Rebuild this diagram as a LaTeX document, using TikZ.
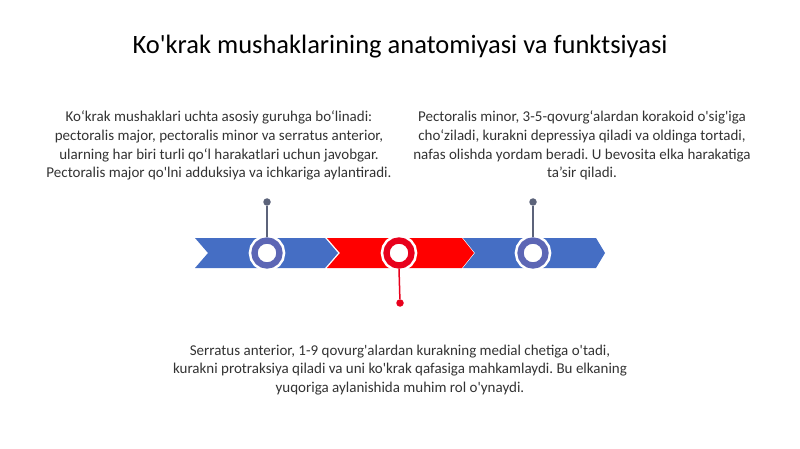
\documentclass[tikz,border=0pt]{standalone}
\usepackage{fontspec}
\setmainfont{Carlito}[Ligatures=TeXOff]
\definecolor{bandblue}{rgb}{0.27,0.43,0.77}
\definecolor{bandred}{rgb}{1.00,0.00,0.00}
\definecolor{ringblue}{rgb}{0.36,0.40,0.71}
\definecolor{ringred}{rgb}{0.91,0.00,0.11}
\definecolor{stemblue}{rgb}{0.36,0.39,0.48}
\definecolor{textgray}{rgb}{0.20,0.20,0.20}
\tikzset{
  ring/.style={circle, fill=white, draw=#1, line width=6.3pt, inner sep=0pt,
    minimum size=25pt, preaction={draw=white, line width=11.5pt}},
  pin/.style={circle, fill=#1, inner sep=0pt, minimum size=7.5pt},
  stem/.style={draw=#1, line width=1.5pt},
  bodytext/.style={align=center, text=textgray, font=\fontsize{15}{18.8}\selectfont}
}

\begin{document}
\frenchspacing
\begin{tikzpicture}[x=1pt,y=-1pt]
\useasboundingbox (0,0) rectangle (800,449);
\node (title) at (400,47) {\fontsize{26.5}{30}\selectfont Ko'krak mushaklarining anatomiyasi va funktsiyasi};

% timeline band
\fill[bandblue] (195,238)--(325,238)--(338,253)--(325,268)--(195,268)--(208,253)--cycle;
\fill[bandred] (327,238)--(462,238)--(474,253)--(462,268)--(327,268)--(340,253)--cycle;
\fill[bandblue] (463,238)--(596,238)--(605,253)--(596,268)--(463,268)--(475,253)--cycle;

\node[ring=ringblue] (c1) at (267,253) {};
\node[ring=ringred] (c2) at (399,253) {};
\node[ring=ringblue] (c3) at (533,253) {};

\node[pin=stemblue] (p1) at (267,202) {};
\node[pin=ringred] (p2) at (400,303) {};
\node[pin=stemblue] (p3) at (533,202) {};
\draw[stem=stemblue] (c1.north) -- (p1);
\draw[stem=ringred] (c2.south) -- (p2);
\draw[stem=stemblue] (c3.north) -- (p3);

\node[bodytext] (left) at (219,145.5) {Ko‘krak mushaklari uchta asosiy guruhga bo‘linadi:\\pectoralis major, pectoralis minor va serratus anterior,\\ularning har biri turli qo‘l harakatlari uchun javobgar.\\Pectoralis major qo'lni adduksiya va ichkariga aylantiradi.};
\node[bodytext] (right) at (582,145.5) {Pectoralis minor, 3-5-qovurg‘alardan korakoid o'sig'iga\\cho‘ziladi, kurakni depressiya qiladi va oldinga tortadi,\\nafas olishda yordam beradi. U bevosita elka harakatiga\\ta’sir qiladi.};
\node[bodytext] (bottom) at (400,370) {Serratus anterior, 1-9 qovurg'alardan kurakning medial chetiga o'tadi,\\kurakni protraksiya qiladi va uni ko'krak qafasiga mahkamlaydi. Bu elkaning\\yuqoriga aylanishida muhim rol o'ynaydi.};
\end{tikzpicture}
\end{document}
